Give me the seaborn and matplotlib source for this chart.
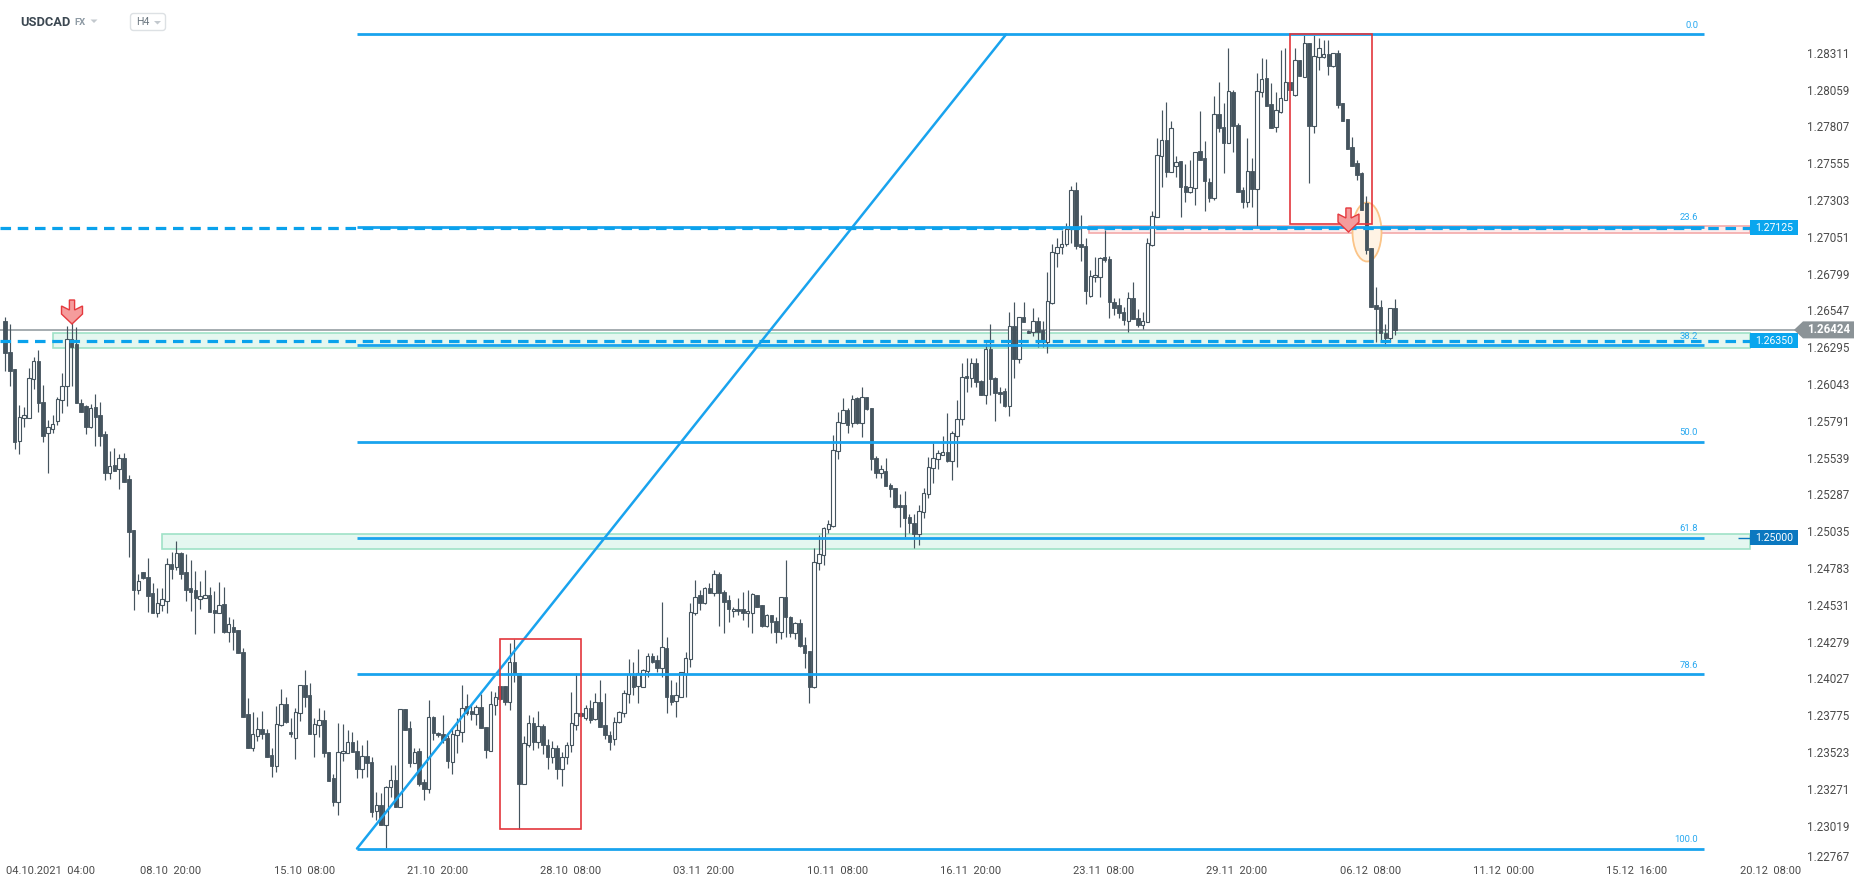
import matplotlib
matplotlib.use("Agg")
import matplotlib.pyplot as plt
import matplotlib.transforms as mtransforms
from matplotlib.patches import Rectangle, Ellipse, Polygon, FancyBboxPatch
import seaborn as sns
import numpy as np
import pandas as pd

sns.set_theme(style="white")
plt.rcParams['font.family'] = ['Roboto', 'DejaVu Sans']

# ---------------- data (USDCAD H4) ----------------
opens = [
    1.26485, 1.26272, 1.26156, 1.25665, 1.25818, 1.25818, 1.26085, 1.26211, 1.25928, 1.25715,
    1.25743, 1.25800, 1.25941, 1.26037, 1.26359, 1.26327, 1.25921, 1.25900, 1.25759, 1.25893,
    1.25839, 1.25708, 1.25446, 1.25496, 1.25469, 1.25544, 1.25400, 1.25053, 1.24640, 1.24763,
    1.24729, 1.24619, 1.24487, 1.24542, 1.24567, 1.24818, 1.24798, 1.24896, 1.24763, 1.24654,
    1.24640, 1.24583, 1.24590, 1.24608, 1.24503, 1.24482, 1.24546, 1.24357, 1.24389, 1.24368,
    1.24218, 1.23793, 1.23563, 1.23643, 1.23688, 1.23661, 1.23510, 1.23439, 1.23718, 1.23859,
    1.23670, 1.23631, 1.23798, 1.23990, 1.23923, 1.23654, 1.23716, 1.23752, 1.23531, 1.23353,
    1.23193, 1.23524, 1.23528, 1.23602, 1.23540, 1.23414, 1.23503, 1.23462, 1.23129, 1.23168,
    1.23031, 1.23296, 1.23341, 1.23159, 1.23825, 1.23695, 1.23460, 1.23538, 1.23328, 1.23282,
    1.23770, 1.23666, 1.23654, 1.23627, 1.23467, 1.23647, 1.23672, 1.23848, 1.23816, 1.23796,
    1.23839, 1.23704, 1.23538, 1.23853, 1.23985, 1.23985, 1.23878, 1.24147, 1.24072, 1.23316,
    1.23581, 1.23730, 1.23600, 1.23710, 1.23580, 1.23500, 1.23560, 1.23420, 1.23500, 1.23580,
    1.23718, 1.23798, 1.23763, 1.23832, 1.23757, 1.23873, 1.23718, 1.23650, 1.23620, 1.23736,
    1.23798, 1.23928, 1.24056, 1.23985, 1.23980, 1.24088, 1.24190, 1.24163, 1.24110, 1.24247,
    1.23923, 1.23884, 1.23912, 1.24067, 1.24167, 1.24487, 1.24608, 1.24551, 1.24654, 1.24624,
    1.24750, 1.24631, 1.24574, 1.24496, 1.24512, 1.24510, 1.24482, 1.24487, 1.24606, 1.24537,
    1.24396, 1.24471, 1.24430, 1.24357, 1.24597, 1.24460, 1.24345, 1.24414, 1.24266, 1.24224,
    1.23980, 1.24829, 1.24882, 1.25058, 1.25083, 1.25594, 1.25784, 1.25875, 1.25784, 1.25955,
    1.25789, 1.25962, 1.25887, 1.25544, 1.25441, 1.25457, 1.25362, 1.25343, 1.25225, 1.25225,
    1.25140, 1.25099, 1.25026, 1.25179, 1.25298, 1.25476, 1.25537, 1.25567, 1.25585, 1.25528,
    1.25699, 1.25811, 1.26108, 1.26092, 1.26200, 1.26074, 1.25978, 1.26293, 1.26092, 1.25996,
    1.26003, 1.25903, 1.26451, 1.26225, 1.26510, 1.26416, 1.26412, 1.26485, 1.26423, 1.26343,
    1.26610, 1.26948, 1.26992, 1.27010, 1.27113, 1.27382, 1.27012, 1.27001, 1.26656, 1.26784,
    1.26784, 1.26921, 1.26910, 1.26617, 1.26594, 1.26544, 1.26487, 1.26640, 1.26503, 1.26457,
    1.26476, 1.27005, 1.27199, 1.27615, 1.27724, 1.27507, 1.27546, 1.27580, 1.27412, 1.27371,
    1.27393, 1.27649, 1.27599, 1.27434, 1.27325, 1.27900, 1.27816, 1.27706, 1.28055, 1.27827,
    1.27382, 1.27297, 1.27512, 1.27387, 1.28051, 1.28147, 1.27971, 1.27811, 1.27918, 1.28001,
    1.28120, 1.28033, 1.28272, 1.28158, 1.28386, 1.27823, 1.28295, 1.28291, 1.28311, 1.28233,
    1.28318, 1.27975, 1.27868, 1.27674, 1.27565, 1.27498, 1.27290, 1.26982, 1.26594, 1.26578,
    1.26400, 1.26366, 1.26571,
]
highs = [
    1.26514, 1.26462, 1.26156, 1.25909, 1.25898, 1.26160, 1.26240, 1.26286, 1.26046, 1.25807,
    1.25841, 1.25962, 1.26129, 1.26450, 1.26469, 1.26441, 1.25950, 1.25909, 1.25916, 1.25982,
    1.25930, 1.25731, 1.25597, 1.25613, 1.25574, 1.25578, 1.25428, 1.25053, 1.24750, 1.24763,
    1.24864, 1.24692, 1.24658, 1.24654, 1.24864, 1.24905, 1.24978, 1.24905, 1.24887, 1.24848,
    1.24772, 1.24704, 1.24779, 1.24663, 1.24635, 1.24697, 1.24663, 1.24457, 1.24444, 1.24368,
    1.24245, 1.23901, 1.23807, 1.23775, 1.23812, 1.23688, 1.23563, 1.23848, 1.23965, 1.23912,
    1.23764, 1.23837, 1.23994, 1.24095, 1.24008, 1.23764, 1.23837, 1.23821, 1.23531, 1.23382,
    1.23734, 1.23725, 1.23684, 1.23670, 1.23615, 1.23581, 1.23615, 1.23501, 1.23261, 1.23250,
    1.23300, 1.23444, 1.23442, 1.23825, 1.23825, 1.23745, 1.23558, 1.23558, 1.23346, 1.23887,
    1.23779, 1.23672, 1.23786, 1.23650, 1.23695, 1.23764, 1.23994, 1.23930, 1.23853, 1.23853,
    1.23933, 1.23704, 1.23951, 1.23946, 1.23985, 1.23985, 1.24282, 1.24305, 1.24072, 1.23643,
    1.23786, 1.23775, 1.23814, 1.23724, 1.23620, 1.23610, 1.23580, 1.23530, 1.23600, 1.23946,
    1.24071, 1.23810, 1.23855, 1.23889, 1.23935, 1.24026, 1.23940, 1.23680, 1.23775, 1.23816,
    1.23957, 1.24170, 1.24149, 1.24236, 1.24099, 1.24208, 1.24208, 1.24197, 1.24558, 1.24323,
    1.24026, 1.24014, 1.24083, 1.24218, 1.24551, 1.24711, 1.24642, 1.24665, 1.24688, 1.24779,
    1.24768, 1.24642, 1.24608, 1.24528, 1.24590, 1.24631, 1.24642, 1.24619, 1.24606, 1.24537,
    1.24476, 1.24471, 1.24460, 1.24597, 1.24848, 1.24464, 1.24421, 1.24441, 1.24323, 1.24224,
    1.24928, 1.25020, 1.25076, 1.25122, 1.25704, 1.25859, 1.25955, 1.25891, 1.25978, 1.25962,
    1.26030, 1.25962, 1.25887, 1.25560, 1.25499, 1.25550, 1.25378, 1.25343, 1.25300, 1.25323,
    1.25163, 1.25163, 1.25225, 1.25339, 1.25556, 1.25647, 1.25601, 1.25699, 1.25857, 1.25734,
    1.25944, 1.26195, 1.26229, 1.26229, 1.26229, 1.26081, 1.26332, 1.26464, 1.26104, 1.26035,
    1.26024, 1.26544, 1.26613, 1.26510, 1.26613, 1.26423, 1.26572, 1.26515, 1.26485, 1.26820,
    1.27010, 1.27051, 1.27108, 1.27158, 1.27409, 1.27439, 1.27210, 1.27051, 1.26834, 1.26925,
    1.26921, 1.27108, 1.26932, 1.26640, 1.26640, 1.26583, 1.26686, 1.26754, 1.26565, 1.26549,
    1.27051, 1.27238, 1.27736, 1.27930, 1.27982, 1.27857, 1.27615, 1.27580, 1.27558, 1.27585,
    1.27644, 1.27923, 1.27717, 1.27462, 1.28028, 1.28119, 1.27975, 1.28357, 1.28065, 1.27843,
    1.27400, 1.27736, 1.27603, 1.28181, 1.28284, 1.28277, 1.28112, 1.28055, 1.28341, 1.28357,
    1.28120, 1.28352, 1.28272, 1.28443, 1.28386, 1.28443, 1.28425, 1.28409, 1.28409, 1.28318,
    1.28341, 1.27975, 1.27868, 1.27743, 1.27587, 1.27507, 1.27340, 1.26982, 1.26715, 1.26629,
    1.26462, 1.26571, 1.26633,
]
lows = [
    1.26145, 1.26042, 1.25606, 1.25571, 1.25756, 1.25818, 1.26021, 1.25859, 1.25658, 1.25446,
    1.25720, 1.25772, 1.25857, 1.25905, 1.26042, 1.25921, 1.25864, 1.25713, 1.25752, 1.25630,
    1.25629, 1.25398, 1.25400, 1.25460, 1.25332, 1.25384, 1.24866, 1.24505, 1.24613, 1.24715,
    1.24494, 1.24487, 1.24460, 1.24498, 1.24482, 1.24720, 1.24779, 1.24720, 1.24569, 1.24498,
    1.24339, 1.24512, 1.24585, 1.24489, 1.24350, 1.24482, 1.24345, 1.24288, 1.24235, 1.24209,
    1.23770, 1.23563, 1.23542, 1.23608, 1.23622, 1.23501, 1.23359, 1.23398, 1.23713, 1.23729,
    1.23638, 1.23483, 1.23748, 1.23844, 1.23654, 1.23501, 1.23638, 1.23497, 1.23337, 1.23166,
    1.23104, 1.23471, 1.23524, 1.23531, 1.23353, 1.23353, 1.23364, 1.23090, 1.23067, 1.23031,
    1.22873, 1.23227, 1.23159, 1.23159, 1.23684, 1.23428, 1.23455, 1.23302, 1.23202, 1.23250,
    1.23615, 1.23638, 1.23592, 1.23426, 1.23380, 1.23524, 1.23600, 1.23784, 1.23752, 1.23720,
    1.23695, 1.23494, 1.23538, 1.23790, 1.23889, 1.23855, 1.23821, 1.24012, 1.23003, 1.23316,
    1.23570, 1.23550, 1.23560, 1.23520, 1.23420, 1.23460, 1.23350, 1.23300, 1.23450, 1.23530,
    1.23683, 1.23770, 1.23752, 1.23730, 1.23752, 1.23706, 1.23620, 1.23550, 1.23580, 1.23730,
    1.23775, 1.23866, 1.23923, 1.23866, 1.23976, 1.24049, 1.24140, 1.24083, 1.24049, 1.23797,
    1.23855, 1.23770, 1.23912, 1.23912, 1.24117, 1.24471, 1.24505, 1.24544, 1.24619, 1.24601,
    1.24396, 1.24350, 1.24425, 1.24460, 1.24471, 1.24437, 1.24391, 1.24345, 1.24523, 1.24391,
    1.24391, 1.24345, 1.24277, 1.24304, 1.24323, 1.24323, 1.24309, 1.24254, 1.24106, 1.23866,
    1.23969, 1.24780, 1.24814, 1.25031, 1.25076, 1.25537, 1.25784, 1.25716, 1.25761, 1.25780,
    1.25688, 1.25875, 1.25464, 1.25407, 1.25407, 1.25355, 1.25282, 1.25206, 1.25076, 1.25008,
    1.25031, 1.24928, 1.24951, 1.25133, 1.25270, 1.25378, 1.25471, 1.25567, 1.25521, 1.25396,
    1.25483, 1.25773, 1.25999, 1.26035, 1.26035, 1.25978, 1.25916, 1.25978, 1.25802, 1.25921,
    1.25898, 1.25836, 1.26097, 1.26195, 1.26480, 1.26405, 1.26384, 1.26309, 1.26309, 1.26268,
    1.26599, 1.26857, 1.26944, 1.27001, 1.27021, 1.26976, 1.26893, 1.26599, 1.26651, 1.26750,
    1.26647, 1.26891, 1.26503, 1.26526, 1.26503, 1.26457, 1.26412, 1.26496, 1.26446, 1.26430,
    1.26476, 1.27001, 1.27199, 1.27400, 1.27473, 1.27507, 1.27473, 1.27195, 1.27302, 1.27360,
    1.27279, 1.27587, 1.27240, 1.27302, 1.27313, 1.27781, 1.27501, 1.27702, 1.27640, 1.27371,
    1.27261, 1.27263, 1.27268, 1.27131, 1.28021, 1.27959, 1.27809, 1.27777, 1.27907, 1.28001,
    1.28065, 1.28028, 1.28163, 1.28158, 1.27428, 1.27775, 1.28204, 1.28284, 1.28170, 1.28227,
    1.27941, 1.27857, 1.27663, 1.27549, 1.27450, 1.27245, 1.26944, 1.26583, 1.26343, 1.26343,
    1.26325, 1.26343, 1.26389,
]
closes = [
    1.26263, 1.26145, 1.25658, 1.25827, 1.25841, 1.26092, 1.26211, 1.25925, 1.25699, 1.25759,
    1.25777, 1.25948, 1.26037, 1.26359, 1.26309, 1.25921, 1.25864, 1.25761, 1.25889, 1.25829,
    1.25697, 1.25446, 1.25490, 1.25460, 1.25546, 1.25384, 1.25042, 1.24640, 1.24704, 1.24727,
    1.24603, 1.24487, 1.24551, 1.24578, 1.24818, 1.24784, 1.24896, 1.24754, 1.24642, 1.24629,
    1.24585, 1.24601, 1.24606, 1.24492, 1.24485, 1.24540, 1.24357, 1.24407, 1.24357, 1.24209,
    1.23775, 1.23563, 1.23654, 1.23688, 1.23654, 1.23501, 1.23439, 1.23725, 1.23859, 1.23741,
    1.23654, 1.23805, 1.23990, 1.23912, 1.23654, 1.23723, 1.23752, 1.23524, 1.23337, 1.23193,
    1.23531, 1.23540, 1.23602, 1.23531, 1.23414, 1.23503, 1.23455, 1.23124, 1.23168, 1.23031,
    1.23296, 1.23341, 1.23159, 1.23825, 1.23684, 1.23460, 1.23531, 1.23312, 1.23282, 1.23770,
    1.23661, 1.23647, 1.23615, 1.23474, 1.23659, 1.23684, 1.23837, 1.23802, 1.23793, 1.23841,
    1.23695, 1.23547, 1.23859, 1.23910, 1.23898, 1.23878, 1.24147, 1.24070, 1.23316, 1.23595,
    1.23729, 1.23600, 1.23710, 1.23580, 1.23500, 1.23560, 1.23420, 1.23500, 1.23580, 1.23734,
    1.23798, 1.23780, 1.23832, 1.23752, 1.23873, 1.23706, 1.23650, 1.23600, 1.23740, 1.23804,
    1.23934, 1.24065, 1.23980, 1.24076, 1.24094, 1.24192, 1.24151, 1.24110, 1.24249, 1.23912,
    1.23877, 1.23923, 1.24083, 1.24174, 1.24494, 1.24597, 1.24551, 1.24654, 1.24624, 1.24750,
    1.24624, 1.24562, 1.24510, 1.24512, 1.24496, 1.24482, 1.24498, 1.24613, 1.24528, 1.24396,
    1.24471, 1.24421, 1.24357, 1.24597, 1.24455, 1.24345, 1.24414, 1.24259, 1.24213, 1.23980,
    1.24836, 1.24888, 1.25065, 1.25092, 1.25601, 1.25791, 1.25875, 1.25773, 1.25951, 1.25784,
    1.25962, 1.25880, 1.25537, 1.25441, 1.25469, 1.25355, 1.25332, 1.25213, 1.25209, 1.25133,
    1.25099, 1.25026, 1.25184, 1.25304, 1.25483, 1.25544, 1.25579, 1.25585, 1.25528, 1.25715,
    1.25811, 1.26104, 1.26092, 1.26195, 1.26070, 1.25978, 1.26293, 1.26085, 1.25989, 1.25983,
    1.25903, 1.26451, 1.26225, 1.26510, 1.26480, 1.26405, 1.26485, 1.26412, 1.26343, 1.26620,
    1.26955, 1.26994, 1.27015, 1.27113, 1.27382, 1.27001, 1.26989, 1.26688, 1.26795, 1.26800,
    1.26914, 1.26903, 1.26617, 1.26576, 1.26537, 1.26491, 1.26640, 1.26496, 1.26457, 1.26485,
    1.27017, 1.27206, 1.27622, 1.27724, 1.27507, 1.27804, 1.27576, 1.27405, 1.27371, 1.27400,
    1.27640, 1.27587, 1.27446, 1.27329, 1.27900, 1.27809, 1.27706, 1.28060, 1.27823, 1.27371,
    1.27297, 1.27512, 1.27387, 1.28060, 1.28140, 1.27959, 1.27809, 1.27930, 1.28010, 1.28120,
    1.28065, 1.28272, 1.28163, 1.28386, 1.27823, 1.28302, 1.28357, 1.28311, 1.28233, 1.28318,
    1.27964, 1.27857, 1.27663, 1.27549, 1.27485, 1.27245, 1.26970, 1.26583, 1.26567, 1.26400,
    1.26366, 1.26571, 1.26423,
]

time_labels = ["04.10.2021  04:00", "08.10  20:00", "15.10  08:00", "21.10  20:00",
               "28.10  08:00", "03.11  20:00", "10.11  08:00", "16.11  20:00",
               "23.11  08:00", "29.11  20:00", "06.12  08:00", "11.12  00:00",
               "15.12  16:00", "20.12  08:00"]
price_ticks = [1.28311, 1.28059, 1.27807, 1.27555, 1.27303, 1.27051, 1.26799, 1.26547,
               1.26295, 1.26043, 1.25791, 1.25539, 1.25287, 1.25035, 1.24783, 1.24531,
               1.24279, 1.24027, 1.23775, 1.23523, 1.23271, 1.23019, 1.22767]

fib_high = 1.28447
fib_low = 1.22872
fib_levels = [0.0, 23.6, 38.2, 50.0, 61.8, 78.6, 100.0]
resistance = 1.27125
support = 1.26350
round_level = 1.25000
last_price = 1.26424
zone_support = (1.26300, 1.26403)
zone_round = (1.24923, 1.25026)
zone_resist = (1.27087, 1.27136)

# ---------------- layout helpers ----------------
W, H = 1866, 889
PXB = 4.76      # pixels per bar
X0 = 5.0        # pixel of first bar
PY = 6.848e-5   # price per pixel
P0 = 1.28683    # price at top pixel row

def xi(px):
    return (px - X0) / PXB

def yp(py):
    return P0 - py * PY

fig = plt.figure(figsize=(W / 100, H / 100), dpi=100)
ax = fig.add_axes([0, 0, 1, 1])
ax.set_facecolor("white")
ax.set_xlim(xi(0), xi(W))
ax.set_ylim(yp(H), yp(0))
sns.despine(ax=ax, left=True, bottom=True, right=True, top=True)
ax.grid(False)
ax.set_xticks([])
ax.set_yticks([])
pixT = mtransforms.Affine2D().scale(1, -1).translate(0, H)  # pixel coords, top-left origin

CANDLE = "#45545e"
FIB = "#19a3ee"
DASH = "#0aa2ec"

# ---------------- zones ----------------
for (lo, hi), x_start, fc, ec in [
    (zone_support, xi(53), "#e5f7f0", "#9fe2c7"),
    (zone_round, xi(162), "#e5f7f0", "#9fe2c7"),
    (zone_resist, xi(1089), "#fdeceb", "#f4a9a9"),
]:
    ax.add_patch(Rectangle((x_start, lo), xi(1750) - x_start, hi - lo,
                           facecolor=fc, edgecolor=ec, lw=1.2, zorder=1))

# current price line
ax.hlines(last_price, xi(0), xi(1796), color="#8d969b", lw=1.1, zorder=2)

# orange ellipse
ax.add_patch(Ellipse((xi(1367), yp(232)), 29 / PXB, 59 * PY, facecolor="#fff3e4",
                     edgecolor="#fbc487", lw=1.3, zorder=2))

# ---------------- candles ----------------
df = pd.DataFrame({"o": opens, "h": highs, "l": lows, "c": closes})
df["i"] = np.arange(len(df))
up = df["c"] >= df["o"]
body_low = np.minimum(df["o"], df["c"])
body_h = np.maximum((df["c"] - df["o"]).abs(), 1.3 * PY)
ax.vlines(df["i"], df["l"], df["h"], color=CANDLE, lw=0.85, zorder=3)
ax.bar(df["i"][up], body_h[up], bottom=body_low[up], width=0.74,
       facecolor="white", edgecolor=CANDLE, linewidth=0.8, zorder=4)
ax.bar(df["i"][~up], body_h[~up], bottom=body_low[~up], width=0.74,
       facecolor=CANDLE, edgecolor=CANDLE, linewidth=0.6, zorder=4)

# ---------------- fibonacci ----------------
fx0, fx1 = xi(357), xi(1704)
for f in fib_levels:
    p = fib_high - f / 100.0 * (fib_high - fib_low)
    ax.hlines(p, fx0, fx1, color=FIB, lw=2.0, zorder=5)
    ax.text(xi(1698), p + 9 * PY, f"{f:.1f}", ha="right", va="center",
            fontsize=6.8, color="#2aa9f0", zorder=6)
sns.lineplot(x=[fx0, xi(1006)], y=[fib_low, fib_high], ax=ax, color=FIB, lw=1.8,
             zorder=5, legend=False)

# ---------------- dashed levels ----------------
for lvl in (resistance, support):
    ax.hlines(lvl, xi(0), xi(1750), color=DASH, lw=2.3, linestyles=(0, (3.3, 2.1)), zorder=6)

# ---------------- red rectangles ----------------
for (xa, xb, pa, pb) in [(xi(500), xi(581), yp(829), yp(639)),
                         (xi(1290), xi(1372), yp(224.3), yp(34.3))]:
    ax.add_patch(Rectangle((xa, pa), xb - xa, pb - pa, fill=False,
                           edgecolor="#e3363c", lw=1.2, zorder=6))

# ---------------- red arrows ----------------
shape = [(-2.6, -24), (2.6, -24), (2.6, -14), (10.5, -18), (10.5, -10), (0, 0),
         (-10.5, -10), (-10.5, -18), (-2.6, -14)]
for cx, tip in [(72, yp(324)), (1348.5, yp(232))]:
    pts = [(xi(cx + dx), tip - dy * PY) for dx, dy in shape]
    ax.add_patch(Polygon(pts, closed=True, facecolor="#f59c9c", edgecolor="#e5393e",
                         lw=1.0, zorder=7))

# ---------------- price label boxes ----------------
def level_box(price, text, color):
    ax.add_patch(Rectangle((xi(1750), price - 7.5 * PY), xi(1798) - xi(1750), 15 * PY,
                           facecolor=color, edgecolor="none", zorder=8))
    ax.text((xi(1750) + xi(1798)) / 2, price, text, ha="center", va="center",
            fontsize=7.6, color="white", zorder=9)

level_box(resistance, "1.27125", "#0aa6ee")
level_box(support, "1.26350", "#0aa6ee")
ax.hlines(round_level, xi(1738), xi(1750), color="#0b78c0", lw=1.0, zorder=8)
level_box(round_level, "1.25000", "#0b78c0")

gp = [(xi(1794), last_price), (xi(1803), last_price + 8.5 * PY),
      (xi(1854), last_price + 8.5 * PY), (xi(1854), last_price - 8.5 * PY),
      (xi(1803), last_price - 8.5 * PY)]
ax.add_patch(Polygon(gp, closed=True, facecolor="#8b9397", edgecolor="none", zorder=8))
ax.text((xi(1803) + xi(1854)) / 2, last_price, f"{last_price:.5f}", ha="center",
        va="center", fontsize=8.4, fontweight="bold", color="white", zorder=9)

# ---------------- price axis labels (right, inside) ----------------
ytrans = mtransforms.blended_transform_factory(pixT, ax.transData)
for k, v in enumerate(price_ticks):
    # the lowest label is nudged up so it clears the time axis
    off = 6 * PY if k == len(price_ticks) - 1 else 0.0
    ax.text(1807, v + off, f"{v:.5f}", transform=ytrans, ha="left", va="center",
            fontsize=8.4, color="#4b4b4b", zorder=9)

# ---------------- time axis labels ----------------
xtrans = mtransforms.blended_transform_factory(ax.transData, pixT)
for k, lab in enumerate(time_labels):
    if k == 0:
        ax.text(6, 871, lab, transform=pixT, ha="left", va="center",
                fontsize=8, color="#4b4b4b")
    else:
        ax.text(6.83 + 28 * k, 871, lab, transform=xtrans, ha="center", va="center",
                fontsize=8, color="#4b4b4b")

# ---------------- header ----------------
fig.text(20, 22, "USDCAD", transform=pixT, ha="left", va="center", fontsize=9.3,
         fontweight="bold", color="#3b4751")
fig.text(74, 22.5, "FX", transform=pixT, ha="left", va="center", fontsize=6.8,
         fontweight="bold", color="#8e9aa4")
fig.patches.append(Polygon([(90.5, 19.5), (97.5, 19.5), (94, 23)], closed=True,
                           transform=pixT, facecolor="#c3c9ce", edgecolor="none"))
fig.patches.append(FancyBboxPatch((130.5, 13.5), 35, 17,
                                  boxstyle="round,pad=0,rounding_size=3",
                                  transform=pixT, facecolor="white",
                                  edgecolor="#dde1e4", lw=1.0))
fig.text(136, 22.3, "H4", transform=pixT, ha="left", va="center", fontsize=7.6,
         color="#6b7780")
fig.patches.append(Polygon([(154, 21), (161, 21), (157.5, 24.5)], closed=True,
                           transform=pixT, facecolor="#c3c9ce", edgecolor="none"))

fig.savefig("out.png", dpi=100, facecolor="white")
